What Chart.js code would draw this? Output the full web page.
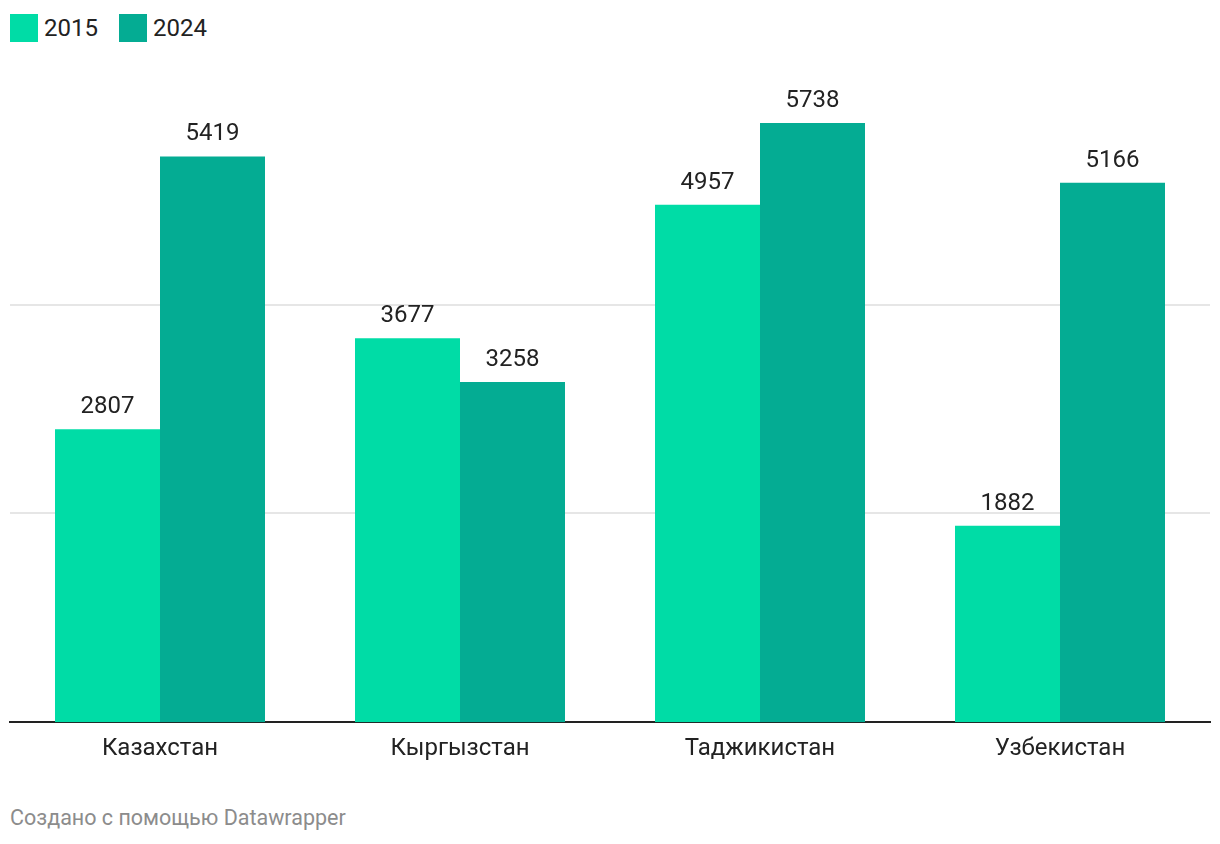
<!DOCTYPE html>
<html lang="ru">
<head>
    <meta charset="UTF-8">
    <title>2015 / 2024</title>
    <script src="https://cdn.jsdelivr.net/npm/chart.js"></script>
    <style>
        body { margin: 0; background: #fff; font-family: Roboto, sans-serif; }
        .legend { position: absolute; left: 10px; top: 14px; display: flex; align-items: center; font-size: 24px; color: #222; height: 28px; }
        .legend span.box { display: inline-block; width: 28px; height: 28px; margin-right: 6px; }
        .legend .item { display: flex; align-items: center; margin-right: 21px; }
        #wrap { position: absolute; left: 0; top: 0; width: 1220px; height: 767px; }
        .footer { position: absolute; left: 10px; top: 805px; font-size: 21.5px; color: #8c8c8c; }
    </style>
</head>
<body>
    <div class="legend">
        <div class="item"><span class="box" style="background:#00dca6"></span>2015</div>
        <div class="item"><span class="box" style="background:#04ac93"></span>2024</div>
    </div>
    <div id="wrap"><canvas id="chart"></canvas></div>
    <div class="footer">Создано с помощью Datawrapper</div>
    <script>
        const countries = ['Казахстан', 'Кыргызстан', 'Таджикистан', 'Узбекистан'];
        const values2015 = [2807, 3677, 4957, 1882];
        const values2024 = [5419, 3258, 5738, 5166];
        const gridValues = [2000, 4000];

        // value labels above each bar
        const valueLabels = {
            id: 'valueLabels',
            afterDatasetsDraw(chart) {
                const c = chart.ctx;
                c.save();
                c.font = '24px Roboto';
                c.fillStyle = '#222';
                c.textAlign = 'center';
                c.textBaseline = 'alphabetic';
                chart.data.datasets.forEach((ds, i) => {
                    chart.getDatasetMeta(i).data.forEach((bar, j) => {
                        c.fillText(ds.data[j], bar.x, bar.y - 16);
                    });
                });
                c.restore();
            }
        };

        new Chart(document.getElementById('chart'), {
            type: 'bar',
            data: {
                labels: countries,
                datasets: [
                    { label: '2015', data: values2015, backgroundColor: '#00dca6' },
                    { label: '2024', data: values2024, backgroundColor: '#04ac93' }
                ]
            },
            options: {
                responsive: true,
                maintainAspectRatio: false,
                animation: false,
                categoryPercentage: 0.7,
                barPercentage: 1,
                layout: { padding: { left: 10, right: 10, top: 54, bottom: 0 } },
                plugins: { legend: { display: false }, tooltip: { enabled: false } },
                scales: {
                    x: {
                        grid: { display: false },
                        border: { display: true, color: '#222', width: 2 },
                        ticks: { color: '#222', font: { family: 'Roboto', size: 24 }, padding: 4 }
                    },
                    y: {
                        min: 0,
                        max: 6400,
                        afterBuildTicks: axis => { axis.ticks = gridValues.map(v => ({ value: v })); },
                        ticks: { display: false },
                        border: { display: false },
                        grid: { drawTicks: false, color: '#e6e6e6', lineWidth: 2 }
                    }
                }
            },
            plugins: [valueLabels]
        });
    </script>
</body>
</html>
